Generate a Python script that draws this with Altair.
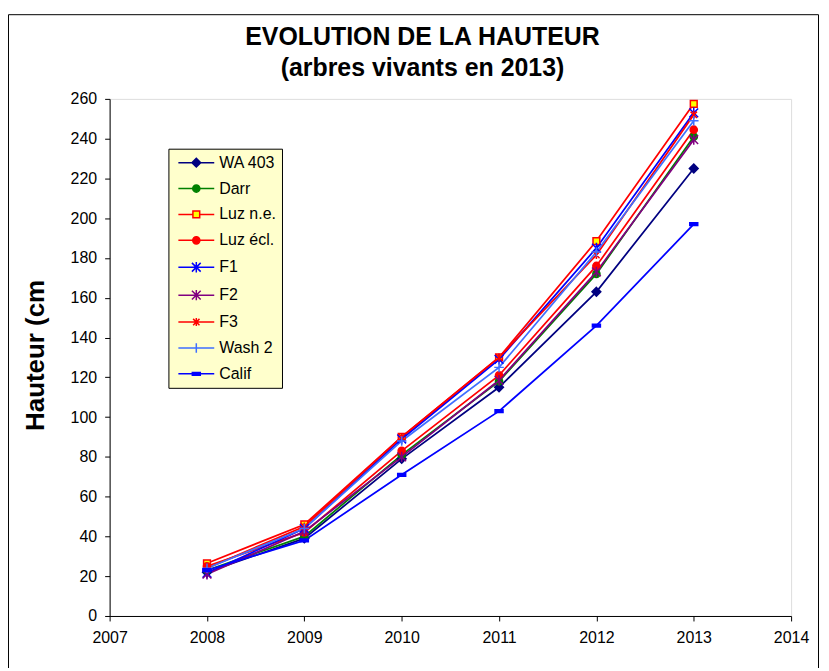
import altair as alt
import pandas as pd

years = [2008, 2009, 2010, 2011, 2012, 2013]
series = ["WA 403", "Darr", "Luz n.e.", "Luz écl.", "F1", "F2", "F3", "Wash 2", "Calif"]

wa403 = [22, 39, 79, 115, 163, 225]
darr = [23, 40, 81, 118, 172, 241]
luz_ne = [26.5, 46, 90, 130, 188.5, 257.5]
luz_ecl = [25, 42, 83, 121, 176, 244.5]
f1 = [21.5, 44, 89, 129, 185, 253]
f2 = [21, 42.5, 80, 118.5, 173, 239.5]
f3 = [24, 45, 90, 130, 181.5, 252]
wash2 = [24, 44, 88, 125, 183, 249]
calif = [23, 38, 71, 103, 146, 197]

x_ticks = [2007, 2008, 2009, 2010, 2011, 2012, 2013, 2014]
y_ticks = list(range(0, 261, 20))

line_colors = ["#000080", "#008000", "#FF0000", "#FF0000", "#0000FF",
               "#800080", "#FF0000", "#3F6FFF", "#0000FF"]
fill_colors = ["#000080", "#008000", "#FFFF00", "#FF0000", "transparent",
               "transparent", "transparent", "transparent", "#0000FF"]

# marker shapes (unit = 4 px)
m_diamond = "M0,-1.1L1.1,0L0,1.1L-1.1,0Z"
m_circle = "M-0.9,0A0.9,0.9,0,1,0,0.9,0A0.9,0.9,0,1,0,-0.9,0Z"
m_square = "M-0.85,-0.85L0.85,-0.85L0.85,0.85L-0.85,0.85Z"
m_star = "M-1.1,-1.1L1.1,1.1M-1.1,1.1L1.1,-1.1M0,-1.3L0,1.3"
m_star_s = "M-0.8,-0.8L0.8,0.8M-0.8,0.8L0.8,-0.8M0,-1L0,1"
m_plus = "M-1.2,0L1.2,0M0,-1.2L0,1.2"
m_dash = "M-1,-0.35L1,-0.35L1,0.35L-1,0.35Z"
markers = [m_diamond, m_circle, m_square, m_circle, m_star, m_star, m_star_s, m_plus, m_dash]
gap = [1.1, 0.9, 0.85, 0.9, 0, 0, 0, 0, 1.0]
legend_shapes = []
for m, g in zip(markers, gap):
    if g > 0:
        legend_shapes.append(f"M-4.5,0L-{g},0M{g},0L4.5,0" + m)
    else:
        legend_shapes.append("M-4.5,0L4.5,0" + m)

values = [wa403, darr, luz_ne, luz_ecl, f1, f2, f3, wash2, calif]
rows = []
for s, vals in zip(series, values):
    for y, v in zip(years, vals):
        rows.append({"series": s, "year": y, "value": v})
df = pd.DataFrame(rows)

FONT = "Liberation Sans"

x_enc = alt.X("year:Q", scale=alt.Scale(domain=[2007, 2014], nice=False, zero=False),
              axis=alt.Axis(values=x_ticks, format="d", title=None, grid=False,
                            labelFont=FONT, labelFontSize=16, labelColor="black",
                            tickColor="black", domainColor="black", tickSize=5,
                            labelPadding=9, labelFlush=False))
y_enc = alt.Y("value:Q", scale=alt.Scale(domain=[0, 260], nice=False),
              axis=alt.Axis(values=y_ticks, title="Hauteur (cm", grid=False,
                            labelFont=FONT, labelFontSize=16, labelColor="black",
                            tickColor="black", domainColor="black", tickSize=5,
                            labelPadding=8,
                            titleFont=FONT, titleFontSize=26, titleFontWeight="bold",
                            titleColor="black", titleAngle=270, titleX=-74, titleY=257,
                            titleAlign="center", titleBaseline="middle"))

base = alt.Chart(df)

frame = alt.Chart(alt.Data(values=[{}])).mark_rect(
    fill="transparent", stroke="black", strokeWidth=1
).encode(x=alt.value(-101.5), x2=alt.value(711.5), y=alt.value(-84.5), y2=alt.value(640))

lines = base.mark_line(strokeWidth=1.75).encode(
    x=x_enc, y=y_enc,
    color=alt.Color("series:N", scale=alt.Scale(domain=series, range=line_colors), legend=None),
    order="year:Q",
)

points = base.mark_point(filled=False, size=64, strokeWidth=1.5, opacity=1).encode(
    x=x_enc, y=y_enc,
    shape=alt.Shape("series:N", scale=alt.Scale(domain=series, range=markers), legend=None),
    stroke=alt.Stroke("series:N", scale=alt.Scale(domain=series, range=line_colors), legend=None),
    fill=alt.Fill("series:N", scale=alt.Scale(domain=series, range=fill_colors), legend=None),
)

leg = alt.Legend(
    title=None, orient="none", legendX=59, legendY=50,
    fillColor="#FFFFCC", strokeColor="black", padding=6,
    rowPadding=10, symbolOffset=14, labelOffset=15,
    labelFont=FONT, labelFontSize=16, labelColor="black",
    symbolSize=64, symbolStrokeWidth=1.5, symbolOpacity=1,
)

legend_layer = base.mark_point(filled=False, size=64, opacity=0).encode(
    x=x_enc, y=y_enc,
    shape=alt.Shape("series:N", scale=alt.Scale(domain=series, range=legend_shapes), legend=leg),
    stroke=alt.Stroke("series:N", scale=alt.Scale(domain=series, range=line_colors), legend=leg),
    fill=alt.Fill("series:N", scale=alt.Scale(domain=series, range=fill_colors), legend=leg),
)

chart = alt.layer(frame, lines, points, legend_layer).resolve_scale(
    shape="independent", stroke="independent", fill="independent"
).properties(
    width=684, height=519,
    autosize=alt.AutoSizeParams(type="none"),
    padding={"left": 102, "top": 90, "right": 30, "bottom": 51},
    title=alt.TitleParams(
        text=["EVOLUTION DE LA HAUTEUR", "(arbres vivants en 2013)"],
        font=FONT, fontSize=25, fontWeight="bold", color="black",
        anchor="middle", dx=-28, offset=-67, lineHeight=31,
    ),
).configure_view(stroke="#808080", strokeWidth=1, fill="#FFFFCC").configure(background="white")

chart.save("out.html", embed_options={"renderer": "svg", "actions": False})
